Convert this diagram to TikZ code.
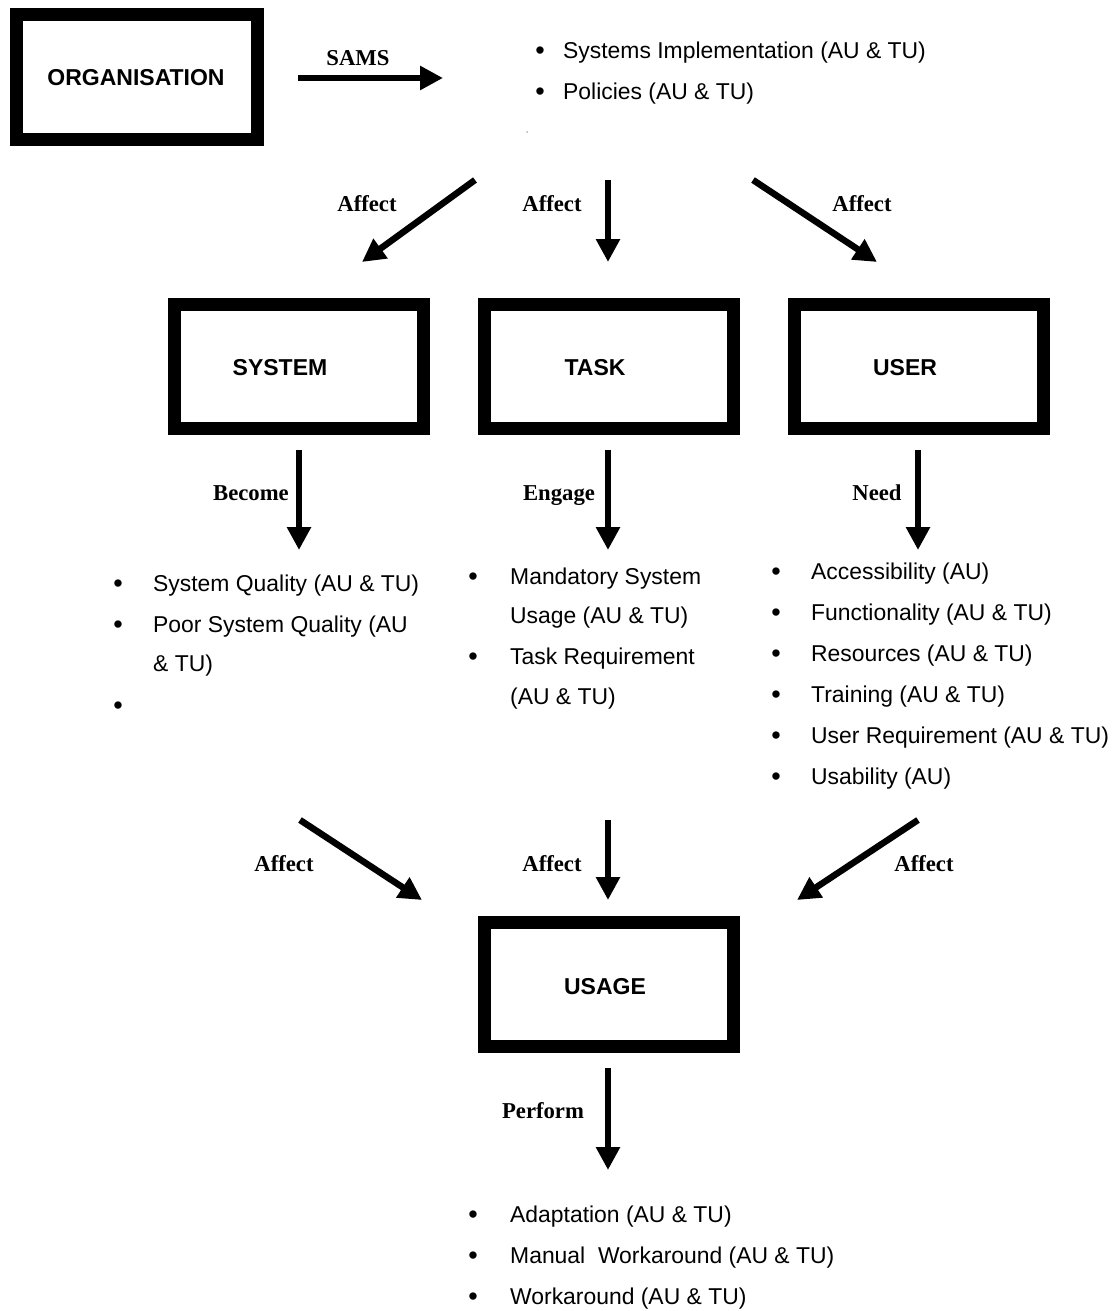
\documentclass[tikz,border=0pt]{standalone}
\usepackage{fontspec}
\setmainfont{Liberation Sans}
\newfontfamily\serifb{Liberation Serif}
\usetikzlibrary{arrows.meta}
\begin{document}
\begin{tikzpicture}[x=1pt,y=-1pt,
 boxnode/.style={draw,line width=13pt,minimum width=249pt,minimum height=124pt,inner sep=0pt},
 boxlabel/.style={anchor=base,inner sep=0pt,font=\fontsize{23}{27}\selectfont\bfseries},
 arr/.style={line width=6.5pt,-{Triangle[length=23pt,width=23pt]}},
 lbl/.style={anchor=base,inner sep=0pt,font=\fontsize{22.7}{27}\selectfont\serifb\bfseries},
 item/.style={anchor=base west,inner sep=0pt,font=\fontsize{22.9}{27}\selectfont},
 bul/.style={anchor=base,inner sep=0pt,font=\fontsize{27}{27}\selectfont}]
\useasboundingbox (0,0) rectangle (1117,1311);

% boxes
\node[boxnode,minimum width=241pt,minimum height=125pt] (org) at (137,77) {};
\node[boxlabel] (orgt) at (136,86) {ORGANISATION};
\node[boxnode] (sys) at (299,366.5) {};
\node[boxlabel] (syst) at (280,375) {SYSTEM};
\node[boxnode] (task) at (609,366.5) {};
\node[boxlabel] (taskt) at (595,375) {TASK};
\node[boxnode] (user) at (919,366.5) {};
\node[boxlabel] (usert) at (905,375) {USER};
\node[boxnode] (usage) at (609,984.5) {};
\node[boxlabel] (usaget) at (605,994) {USAGE};

% SAMS arrow
\coordinate (s1) at (298,78);
\coordinate (s2) at (443,78);
\draw[arr] (s1) -- (s2);
\node[lbl] (sams) at (358,66) {SAMS};

% top list
\node[bul] (tb1) at (540,60) {•};
\node[item] (tt1) at (563,59) {Systems Implementation (AU \& TU)};
\node[bul] (tb2) at (540,101) {•};
\node[item] (tt2) at (563,100) {Policies (AU \& TU)};
\fill[gray!60] (527,132) circle (1pt);

% top affect arrows
\coordinate (a1s) at (475,180); \coordinate (a1e) at (362,262);
\coordinate (a2s) at (608,180); \coordinate (a2e) at (608,262);
\coordinate (a3s) at (753,180); \coordinate (a3e) at (877,262);
\draw[arr] (a1s) -- (a1e);
\draw[arr] (a2s) -- (a2e);
\draw[arr] (a3s) -- (a3e);
\node[lbl] (la1) at (367,211) {Affect};
\node[lbl] (la2) at (552,211) {Affect};
\node[lbl] (la3) at (862,211) {Affect};

% become / engage / need
\coordinate (b1s) at (299,450); \coordinate (b1e) at (299,550);
\coordinate (b2s) at (608,450); \coordinate (b2e) at (608,550);
\coordinate (b3s) at (918,450); \coordinate (b3e) at (918,550);
\draw[arr] (b1s) -- (b1e);
\draw[arr] (b2s) -- (b2e);
\draw[arr] (b3s) -- (b3e);
\node[lbl] (lb1) at (251,500) {Become};
\node[lbl] (lb2) at (559,500) {Engage};
\node[lbl] (lb3) at (877,500) {Need};

% system list
\node[bul] (sb1) at (118,592) {•};
\node[item] (st1) at (153,591) {System Quality (AU \& TU)};
\node[bul] (sb2) at (118,633) {•};
\node[item] (st2) at (153,632) {Poor System Quality (AU};
\node[item] (st3) at (153,671) {\& TU)};
\node[bul] (sb3) at (118,714) {•};

% task list
\node[bul] (kb1) at (473,585) {•};
\node[item] (kt1) at (510,584) {Mandatory System};
\node[item] (kt2) at (510,623) {Usage (AU \& TU)};
\node[bul] (kb2) at (473,665) {•};
\node[item] (kt3) at (510,664) {Task Requirement};
\node[item] (kt4) at (510,704) {(AU \& TU)};

% user list
\node[bul] (ub1) at (776,580) {•};
\node[item] (ut1) at (811,579) {Accessibility (AU)};
\node[bul] (ub2) at (776,621) {•};
\node[item] (ut2) at (811,620) {Functionality (AU \& TU)};
\node[bul] (ub3) at (776,662) {•};
\node[item] (ut3) at (811,661) {Resources (AU \& TU)};
\node[bul] (ub4) at (776,703) {•};
\node[item] (ut4) at (811,702) {Training (AU \& TU)};
\node[bul] (ub5) at (776,744) {•};
\node[item] (ut5) at (811,743) {User Requirement (AU \& TU)};
\node[bul] (ub6) at (776,785) {•};
\node[item] (ut6) at (811,784) {Usability (AU)};

% bottom affect arrows
\coordinate (c1s) at (300,820); \coordinate (c1e) at (422,900);
\coordinate (c2s) at (608,820); \coordinate (c2e) at (608,900);
\coordinate (c3s) at (918,820); \coordinate (c3e) at (797,900);
\draw[arr] (c1s) -- (c1e);
\draw[arr] (c2s) -- (c2e);
\draw[arr] (c3s) -- (c3e);
\node[lbl] (lc1) at (284,871) {Affect};
\node[lbl] (lc2) at (552,871) {Affect};
\node[lbl] (lc3) at (924,871) {Affect};

% perform
\coordinate (ps) at (608,1068); \coordinate (pe) at (608,1170);
\draw[arr] (ps) -- (pe);
\node[lbl] (lp) at (543,1118) {Perform};

% bottom list
\node[bul] (pb1) at (473,1223) {•};
\node[item] (pt1) at (510,1222) {Adaptation (AU \& TU)};
\node[bul] (pb2) at (473,1264) {•};
\node[item] (pt2) at (510,1263) {Manual\ \ Workaround (AU \& TU)};
\node[bul] (pb3) at (473,1305) {•};
\node[item] (pt3) at (510,1304) {Workaround (AU \& TU)};
\end{tikzpicture}
\end{document}
